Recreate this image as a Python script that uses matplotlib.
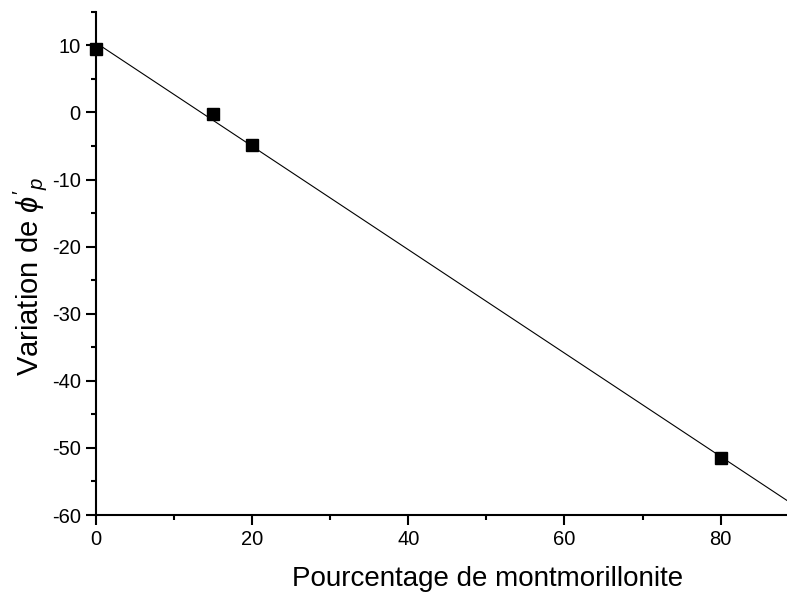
import matplotlib
matplotlib.use("Agg")
import matplotlib.pyplot as plt
import numpy as np
from matplotlib.ticker import MultipleLocator

# donnees
montmorillonite = [0, 15, 20, 80]
variation_phi = [9.5, -0.3, -4.8, -51.5]

plt.rcParams['font.family'] = ['Liberation Sans', 'DejaVu Sans']
plt.rcParams['mathtext.fontset'] = 'custom'
plt.rcParams['mathtext.it'] = 'Liberation Sans:italic'
plt.rcParams['mathtext.rm'] = 'Liberation Sans'
plt.rcParams['axes.unicode_minus'] = False

fig = plt.figure(figsize=(7.87, 5.92), dpi=100)
ax = fig.add_axes([0.122, 0.130, 0.878, 0.850])

# regression lineaire
pente, origine = np.polyfit(montmorillonite, variation_phi, 1)
xs = np.array([0, 88.5])
ax.plot(xs, pente * xs + origine, color='black', linewidth=0.8, zorder=2)

ax.plot(montmorillonite, variation_phi, 's', color='black', markersize=8,
        zorder=3, clip_on=False)

ax.set_xlim(0, 88.5)
ax.set_ylim(-60, 15)

for side in ['top', 'right']:
    ax.spines[side].set_visible(False)
for side in ['left', 'bottom']:
    ax.spines[side].set_linewidth(1.5)

ax.xaxis.set_major_locator(MultipleLocator(20))
ax.xaxis.set_minor_locator(MultipleLocator(10))
ax.yaxis.set_major_locator(MultipleLocator(10))
ax.yaxis.set_minor_locator(MultipleLocator(5))
ax.tick_params(which='major', direction='out', length=7, width=1.5,
               labelsize=14.5, pad=4)
ax.tick_params(which='minor', direction='out', length=3.6, width=1.5)

ax.set_xlabel('Pourcentage de montmorillonite', fontsize=20)
ax.xaxis.set_label_coords(0.566, -0.101)
ax.set_ylabel(r"Variation de $\phi'_p$", fontsize=21)
ax.yaxis.set_label_coords(-0.068, 0.475)

fig.savefig('out.png', dpi=100)
